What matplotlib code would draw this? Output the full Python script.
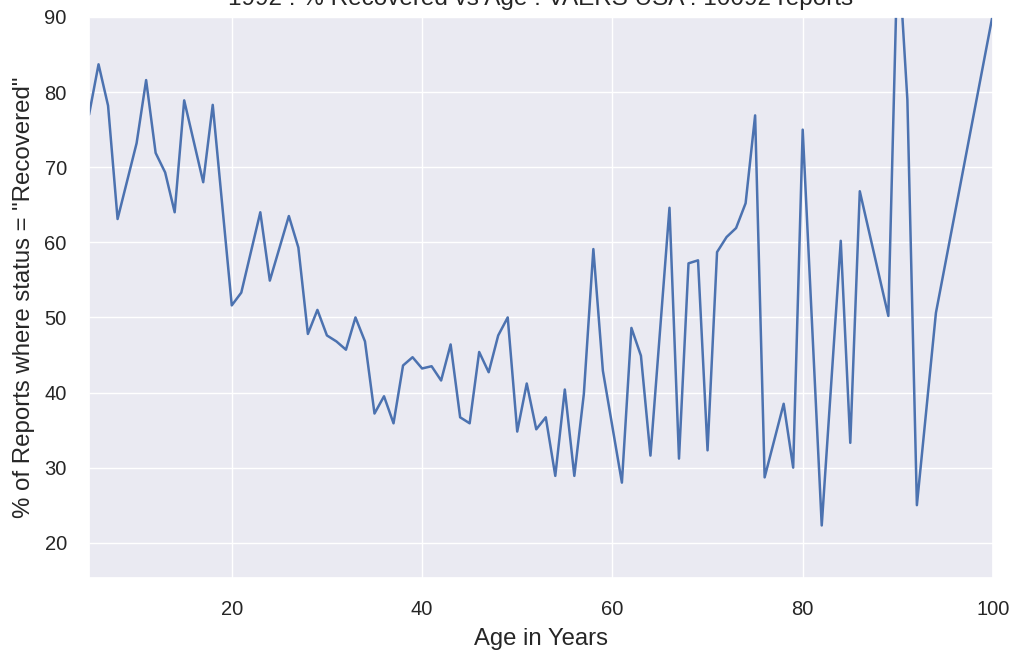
import numpy as np
import matplotlib.pyplot as plt
import seaborn as sns

sns.set_theme(style='darkgrid')
plt.rcParams['font.family'] = ['Liberation Sans', 'DejaVu Sans']

ages = [5, 6, 7, 8, 10, 11, 12, 13, 14, 15, 17, 18, 20, 21, 23, 24, 26, 27,
        28, 29, 30, 31, 32, 33, 34, 35, 36, 37, 38, 39, 40, 41, 42, 43, 44,
        45, 46, 47, 48, 49, 50, 51, 52, 53, 54, 55, 56, 57, 58, 59, 61, 62,
        63, 64, 66, 67, 68, 69, 70, 71, 72, 73, 74, 75, 76, 78, 79, 80, 82,
        84, 85, 86, 89, 90, 91, 92, 94, 100]
pct_recovered = [77.0, 83.7, 78.2, 63.1, 73.2, 81.6, 71.9, 69.3, 64.0, 78.9,
                 68.0, 78.3, 51.6, 53.3, 64.0, 54.9, 63.5, 59.3,
                 47.8, 51.0, 47.6, 46.8, 45.7, 50.0, 46.8, 37.2, 39.5, 35.9,
                 43.6, 44.7, 43.2, 43.5, 41.6, 46.4, 36.7,
                 35.9, 45.4, 42.7, 47.6, 50.0, 34.8, 41.2, 35.1, 36.7, 28.9,
                 40.4, 28.9, 39.8, 59.1, 42.9, 28.0, 48.6,
                 44.9, 31.6, 64.6, 31.2, 57.2, 57.6, 32.3, 58.7, 60.7, 61.9,
                 65.2, 76.9, 28.7, 38.5, 30.0, 75.0, 22.3,
                 60.2, 33.3, 66.8, 50.2, 100.0, 79.0, 25.0, 50.6, 90.5]

fig = plt.figure(figsize=(10.14, 6.51), dpi=100)
ax = fig.add_axes([0.0878, 0.1121, 0.8915, 0.8618])

ax.plot(ages, pct_recovered, color='#4C72B0', linewidth=1.8)

ax.set_xlim(5, 100)
ax.set_ylim(15.3, 90)
ax.set_xticks([20, 40, 60, 80, 100])
ax.set_yticks([20, 30, 40, 50, 60, 70, 80, 90])
ax.tick_params(labelsize=14.5, colors='#262626', pad=10)

# title sits mostly above the top edge of the figure
ax.set_title('1992 : % Recovered vs Age : VAERS USA : 10092 reports',
             fontsize=17.5, color='#262626', pad=8.5)
ax.set_xlabel('Age in Years', fontsize=17.2, color='#262626', labelpad=6)
ax.set_ylabel('% of Reports where status = "Recovered"', fontsize=17.3,
              color='#262626', labelpad=7)

fig.savefig('out.png', dpi=100)
